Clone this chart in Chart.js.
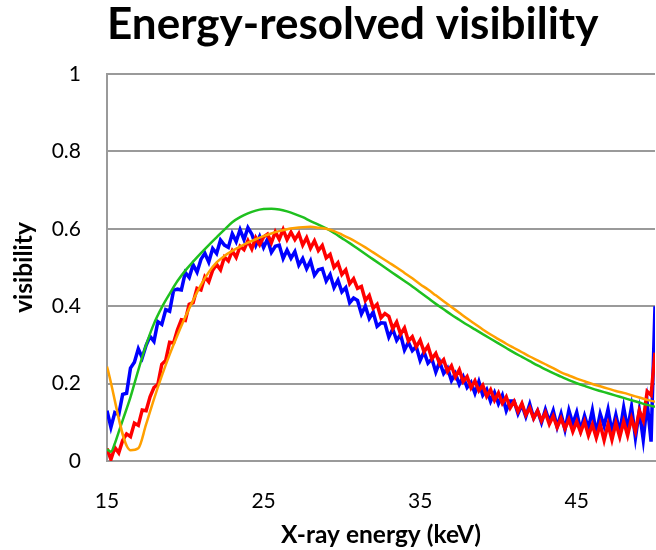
<!DOCTYPE html>
<html lang="en">
  <head>
    <meta charset="UTF-8" />
    <title>Energy-resolved visibility</title>
    <script src="https://cdn.jsdelivr.net/npm/chart.js"></script>
    <style>
      html, body { margin: 0; padding: 0; background: #fff; }
    </style>
  </head>
  <body>
    <canvas id="my-chart" width="656" height="550"></canvas>

    <script>
      //energy bins (keV) of the two measured curves
      const energyFine = [
        15, 15.25, 15.5, 15.75, 16, 16.25, 16.5, 16.75, 17, 17.25, 17.5, 17.75,
        18, 18.25, 18.5, 18.75, 19, 19.25, 19.5, 19.75, 20, 20.25, 20.5, 20.75,
        21, 21.25, 21.5, 21.75, 22, 22.25, 22.5, 22.75, 23, 23.25, 23.5, 23.75,
        24, 24.25, 24.5, 24.75, 25, 25.25, 25.5, 25.75, 26, 26.25, 26.5, 26.75,
        27, 27.25, 27.5, 27.75, 28, 28.25, 28.5, 28.75, 29, 29.25, 29.5, 29.75,
        30, 30.25, 30.5, 30.75, 31, 31.25, 31.5, 31.75, 32, 32.25, 32.5, 32.75,
        33, 33.25, 33.5, 33.75, 34, 34.25, 34.5, 34.75, 35, 35.25, 35.5, 35.75,
        36, 36.25, 36.5, 36.75, 37, 37.25, 37.5, 37.75, 38, 38.25, 38.5, 38.75,
        39, 39.25, 39.5, 39.75, 40, 40.25, 40.5, 40.75, 41, 41.25, 41.5, 41.75,
        42, 42.25, 42.5, 42.75, 43, 43.25, 43.5, 43.75, 44, 44.25, 44.5, 44.75,
        45, 45.25, 45.5, 45.75, 46, 46.25, 46.5, 46.75, 47, 47.25, 47.5, 47.75,
        48, 48.25, 48.5, 48.75, 49, 49.25, 49.5, 49.75, 50,
      ];

      //blue measured visibility (noisy)
      const blueVis = [
        0.13, 0.087, 0.125, 0.12, 0.172, 0.175, 0.24, 0.255, 0.29, 0.267, 0.299, 0.322,
        0.309, 0.36, 0.353, 0.391, 0.387, 0.441, 0.444, 0.442, 0.487, 0.474, 0.507, 0.488,
        0.521, 0.537, 0.514, 0.549, 0.536, 0.571, 0.558, 0.552, 0.587, 0.567, 0.598, 0.572,
        0.603, 0.586, 0.557, 0.58, 0.552, 0.573, 0.539, 0.555, 0.558, 0.523, 0.545, 0.524,
        0.541, 0.506, 0.523, 0.497, 0.517, 0.48, 0.494, 0.497, 0.465, 0.482, 0.448, 0.467,
        0.437, 0.448, 0.409, 0.421, 0.415, 0.38, 0.4, 0.368, 0.385, 0.348, 0.357, 0.356,
        0.32, 0.341, 0.312, 0.327, 0.287, 0.307, 0.285, 0.296, 0.26, 0.282, 0.253, 0.264,
        0.23, 0.256, 0.226, 0.24, 0.208, 0.226, 0.198, 0.218, 0.19, 0.203, 0.175, 0.205,
        0.17, 0.185, 0.154, 0.177, 0.148, 0.17, 0.13, 0.155, 0.155, 0.122, 0.145, 0.115,
        0.147, 0.111, 0.13, 0.099, 0.133, 0.102, 0.13, 0.088, 0.122, 0.081, 0.131, 0.096,
        0.126, 0.08, 0.117, 0.084, 0.131, 0.072, 0.122, 0.09, 0.133, 0.075, 0.119, 0.074,
        0.138, 0.082, 0.14, 0.06, 0.13, 0.055, 0.15, 0.05, 0.4,
      ];

      //red measured visibility (noisy)
      const redVis = [
        0.032, 0.004, 0.035, 0.021, 0.053, 0.07, 0.063, 0.098, 0.092, 0.132, 0.13, 0.166,
        0.19, 0.198, 0.25, 0.26, 0.307, 0.305, 0.339, 0.365, 0.363, 0.405, 0.409, 0.446,
        0.442, 0.476, 0.463, 0.493, 0.508, 0.494, 0.527, 0.517, 0.543, 0.526, 0.555, 0.546,
        0.569, 0.548, 0.577, 0.559, 0.579, 0.586, 0.564, 0.592, 0.573, 0.598, 0.572, 0.591,
        0.572, 0.588, 0.558, 0.577, 0.55, 0.569, 0.544, 0.557, 0.525, 0.534, 0.5, 0.512,
        0.482, 0.494, 0.458, 0.471, 0.446, 0.451, 0.415, 0.428, 0.395, 0.405, 0.37, 0.381,
        0.374, 0.342, 0.359, 0.328, 0.344, 0.31, 0.321, 0.295, 0.312, 0.282, 0.297, 0.264,
        0.278, 0.251, 0.262, 0.231, 0.246, 0.217, 0.236, 0.205, 0.218, 0.189, 0.207, 0.182,
        0.196, 0.167, 0.184, 0.157, 0.176, 0.149, 0.166, 0.137, 0.154, 0.128, 0.149, 0.119,
        0.137, 0.11, 0.13, 0.104, 0.125, 0.095, 0.116, 0.087, 0.11, 0.084, 0.108, 0.076,
        0.102, 0.074, 0.102, 0.066, 0.094, 0.06, 0.095, 0.054, 0.095, 0.055, 0.098, 0.062,
        0.102, 0.066, 0.11, 0.077, 0.13, 0.105, 0.18, 0.17, 0.28,
      ];

      //green simulated curve
      const greenEnergy = [
        15, 15.25, 15.5, 15.75, 16, 16.5, 17, 17.5, 18, 18.5, 19, 19.5, 20, 20.5,
        21, 21.5, 22, 22.5, 23, 23.5, 24, 24.5, 25, 25.5, 26, 26.5, 27, 27.5, 28,
        28.5, 29, 29.5, 30, 30.5, 31, 31.5, 32, 32.5, 33, 33.5, 34, 34.5, 35, 35.5,
        36, 36.5, 37, 37.5, 38, 38.5, 39, 39.5, 40, 40.5, 41, 41.5, 42, 42.5, 43,
        43.5, 44, 44.5, 45, 45.5, 46, 46.5, 47, 47.5, 48, 48.5, 49, 49.5, 50,
      ];
      const greenVis = [
        0.03, 0.024, 0.045, 0.075, 0.105, 0.165, 0.235, 0.3, 0.355, 0.397, 0.432,
        0.465, 0.492, 0.515, 0.537, 0.558, 0.578, 0.598, 0.617, 0.63, 0.64, 0.647,
        0.651, 0.652, 0.65, 0.645, 0.638, 0.63, 0.62, 0.611, 0.601, 0.589, 0.576,
        0.563, 0.549, 0.535, 0.521, 0.507, 0.493, 0.479, 0.465, 0.451, 0.436, 0.421,
        0.406, 0.392, 0.378, 0.365, 0.352, 0.34, 0.328, 0.316, 0.304, 0.292, 0.28,
        0.269, 0.258, 0.247, 0.237, 0.227, 0.218, 0.209, 0.201, 0.194, 0.187, 0.181,
        0.175, 0.169, 0.163, 0.157, 0.151, 0.145, 0.14,
      ];

      //orange simulated curve
      const orangeEnergy = [
        15, 16.5, 17, 17.5, 18, 18.5, 19, 19.5, 20, 20.5, 21, 21.5, 22, 22.5, 23,
        23.5, 24, 24.5, 25, 25.5, 26, 26.5, 27, 27.5, 28, 28.5, 29, 29.5, 30, 30.5,
        31, 31.5, 32, 32.5, 33, 33.5, 34, 34.5, 35, 35.5, 36, 36.5, 37, 37.5, 38,
        38.5, 39, 39.5, 40, 40.5, 41, 41.5, 42, 42.5, 43, 43.5, 44, 44.5, 45, 45.5,
        46, 46.5, 47, 47.5, 48, 48.5, 49, 49.5, 50,
      ];
      const orangeVis = [
        0.244, 0.028, 0.033, 0.095, 0.16, 0.22, 0.275, 0.325, 0.372, 0.415, 0.455,
        0.488, 0.513, 0.53, 0.543, 0.554, 0.564, 0.573, 0.581, 0.588, 0.594, 0.599,
        0.602, 0.604, 0.605, 0.603, 0.6, 0.594, 0.585, 0.575, 0.564, 0.552, 0.539,
        0.526, 0.513, 0.5, 0.486, 0.472, 0.457, 0.443, 0.428, 0.413, 0.398, 0.383,
        0.368, 0.354, 0.34, 0.327, 0.315, 0.303, 0.292, 0.281, 0.27, 0.26, 0.25,
        0.24, 0.229, 0.221, 0.213, 0.206, 0.199, 0.193, 0.187, 0.181, 0.176, 0.17,
        0.164, 0.158, 0.153,
      ];

      //axis ticks
      const xTickValues = [15, 25, 35, 45];
      const yTickValues = [0, 0.2, 0.4, 0.6, 0.8, 1];

      const FONT = "Lato, 'Open Sans', sans-serif";
      const GRID = "#9a9a9a";

      function toPoints(xs, ys) {
        return xs.map((x, i) => ({ x: x, y: ys[i] }));
      }

      const ctx = document.getElementById("my-chart").getContext("2d");
      const myChart = new Chart(ctx, {
        type: "line",
        data: {
          datasets: [
            //first dataset is drawn on top
            {
              label: "orange",
              data: toPoints(orangeEnergy, orangeVis),
              borderColor: "#ffa000",
              borderWidth: 2.5,
              cubicInterpolationMode: "monotone",
            },
            {
              label: "green",
              data: toPoints(greenEnergy, greenVis),
              borderColor: "#1fc01f",
              borderWidth: 2.5,
              cubicInterpolationMode: "monotone",
            },
            {
              label: "red",
              data: toPoints(energyFine, redVis),
              borderColor: "#ff0000",
              borderWidth: 3.5,
              tension: 0,
            },
            {
              label: "blue",
              data: toPoints(energyFine, blueVis),
              borderColor: "#0000ff",
              borderWidth: 3.5,
              tension: 0,
            },
          ],
        },
        options: {
          responsive: false,
          animation: false,
          events: [],
          layout: { padding: { top: 0, right: 1, bottom: 0, left: 0 } },
          elements: { point: { radius: 0 } },
          plugins: {
            legend: { display: false },
            tooltip: { enabled: false },
            title: {
              display: true,
              text: "Energy-resolved visibility",
              align: "start",
              fullSize: false,
              color: "#000",
              font: { family: FONT, size: 44, weight: "bold", lineHeight: 1.1 },
              padding: { top: 1, bottom: 24.6 },
            },
          },
          scales: {
            x: {
              type: "linear",
              min: 15,
              max: 50,
              afterBuildTicks: (scale) => {
                scale.ticks = xTickValues.map((v) => ({ value: v }));
              },
              afterFit: (scale) => {
                scale.height = 89;
              },
              grid: { display: false },
              border: { display: true, color: GRID, width: 2 },
              ticks: {
                color: "#000",
                font: { family: FONT, size: 21 },
                padding: 20,
                maxRotation: 0,
              },
              title: {
                display: true,
                text: "X-ray energy (keV)",
                color: "#000",
                font: { family: FONT, size: 24.5, weight: "bold" },
                padding: { top: 0, bottom: 0 },
              },
            },
            y: {
              min: 0,
              max: 1,
              afterBuildTicks: (scale) => {
                scale.ticks = yTickValues.map((v) => ({ value: v }));
              },
              afterFit: (scale) => {
                scale.width = 107;
              },
              grid: { color: GRID, lineWidth: 2, drawTicks: false },
              border: { display: true, color: GRID, width: 2 },
              ticks: {
                color: "#000",
                font: { family: FONT, size: 21 },
                padding: 26,
                callback: (v) => String(v),
              },
              title: {
                display: true,
                text: "visibility",
                color: "#000",
                font: { family: FONT, size: 24.5, weight: "bold" },
                padding: { top: 9, bottom: 0 },
              },
            },
          },
        },
      });
    </script>
  </body>
</html>
